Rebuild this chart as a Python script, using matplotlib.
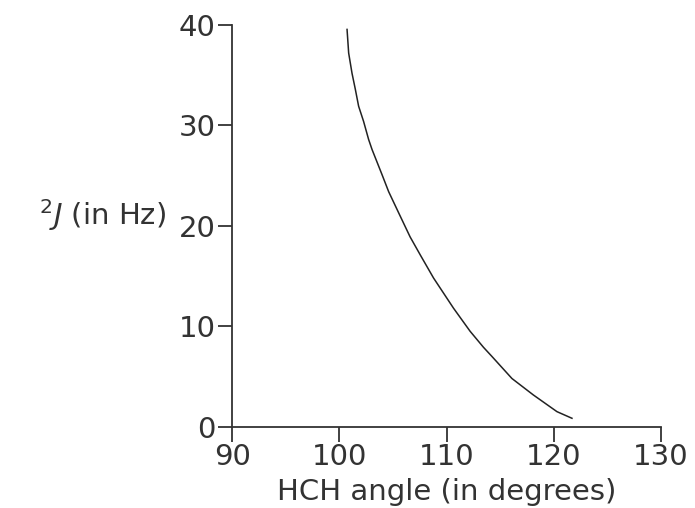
import matplotlib.pyplot as plt

# curve
angle = [100.72, 100.87, 101.18, 101.49, 101.8, 102.26, 102.73, 103.05, 103.98, 104.6,
         105.53, 106.6, 107.55, 108.79, 110.65, 112.2, 113.45, 114.23, 116.1, 118.1, 120.3, 121.7]
coupling = [39.55, 37.2, 35.2, 33.6, 31.9, 30.4, 28.6, 27.6, 25.1, 23.4,
            21.3, 18.9, 17.1, 14.8, 11.8, 9.5, 7.9, 7.0, 4.8, 3.16, 1.5, 0.84]

x_ticks = [90, 100, 110, 120, 130]
y_ticks = [0, 10, 20, 30, 40]

plt.rcParams['mathtext.fontset'] = 'dejavusans'
fig = plt.figure(figsize=(6.95, 5.08), dpi=100)
ax = fig.add_axes([0.334, 0.16, 0.617, 0.791])

ax.plot(angle, coupling, color='#222222', lw=1.1)

ax.set_xlim(90, 130)
ax.set_ylim(0, 40)
ax.set_xticks(x_ticks)
ax.set_yticks(y_ticks)

for s in ['top', 'right']:
    ax.spines[s].set_visible(False)
for s in ['left', 'bottom']:
    ax.spines[s].set_color('#333333')
    ax.spines[s].set_linewidth(1.3)

ax.tick_params(axis='both', labelsize=21, colors='#333333', width=1.3, direction='out')
ax.tick_params(axis='y', length=10, pad=2)
ax.tick_params(axis='x', length=11, pad=1)

ax.set_xlabel("HCH angle (in degrees)", fontsize=21, color='#333333', labelpad=5)
ax.set_ylabel(r"$^2\mathit{J}$ (in Hz)", fontsize=21, color='#333333', rotation=0,
              ha='right', va='center')
ax.yaxis.set_label_coords(-0.155, 0.527)

fig.savefig("out.png", dpi=100)
